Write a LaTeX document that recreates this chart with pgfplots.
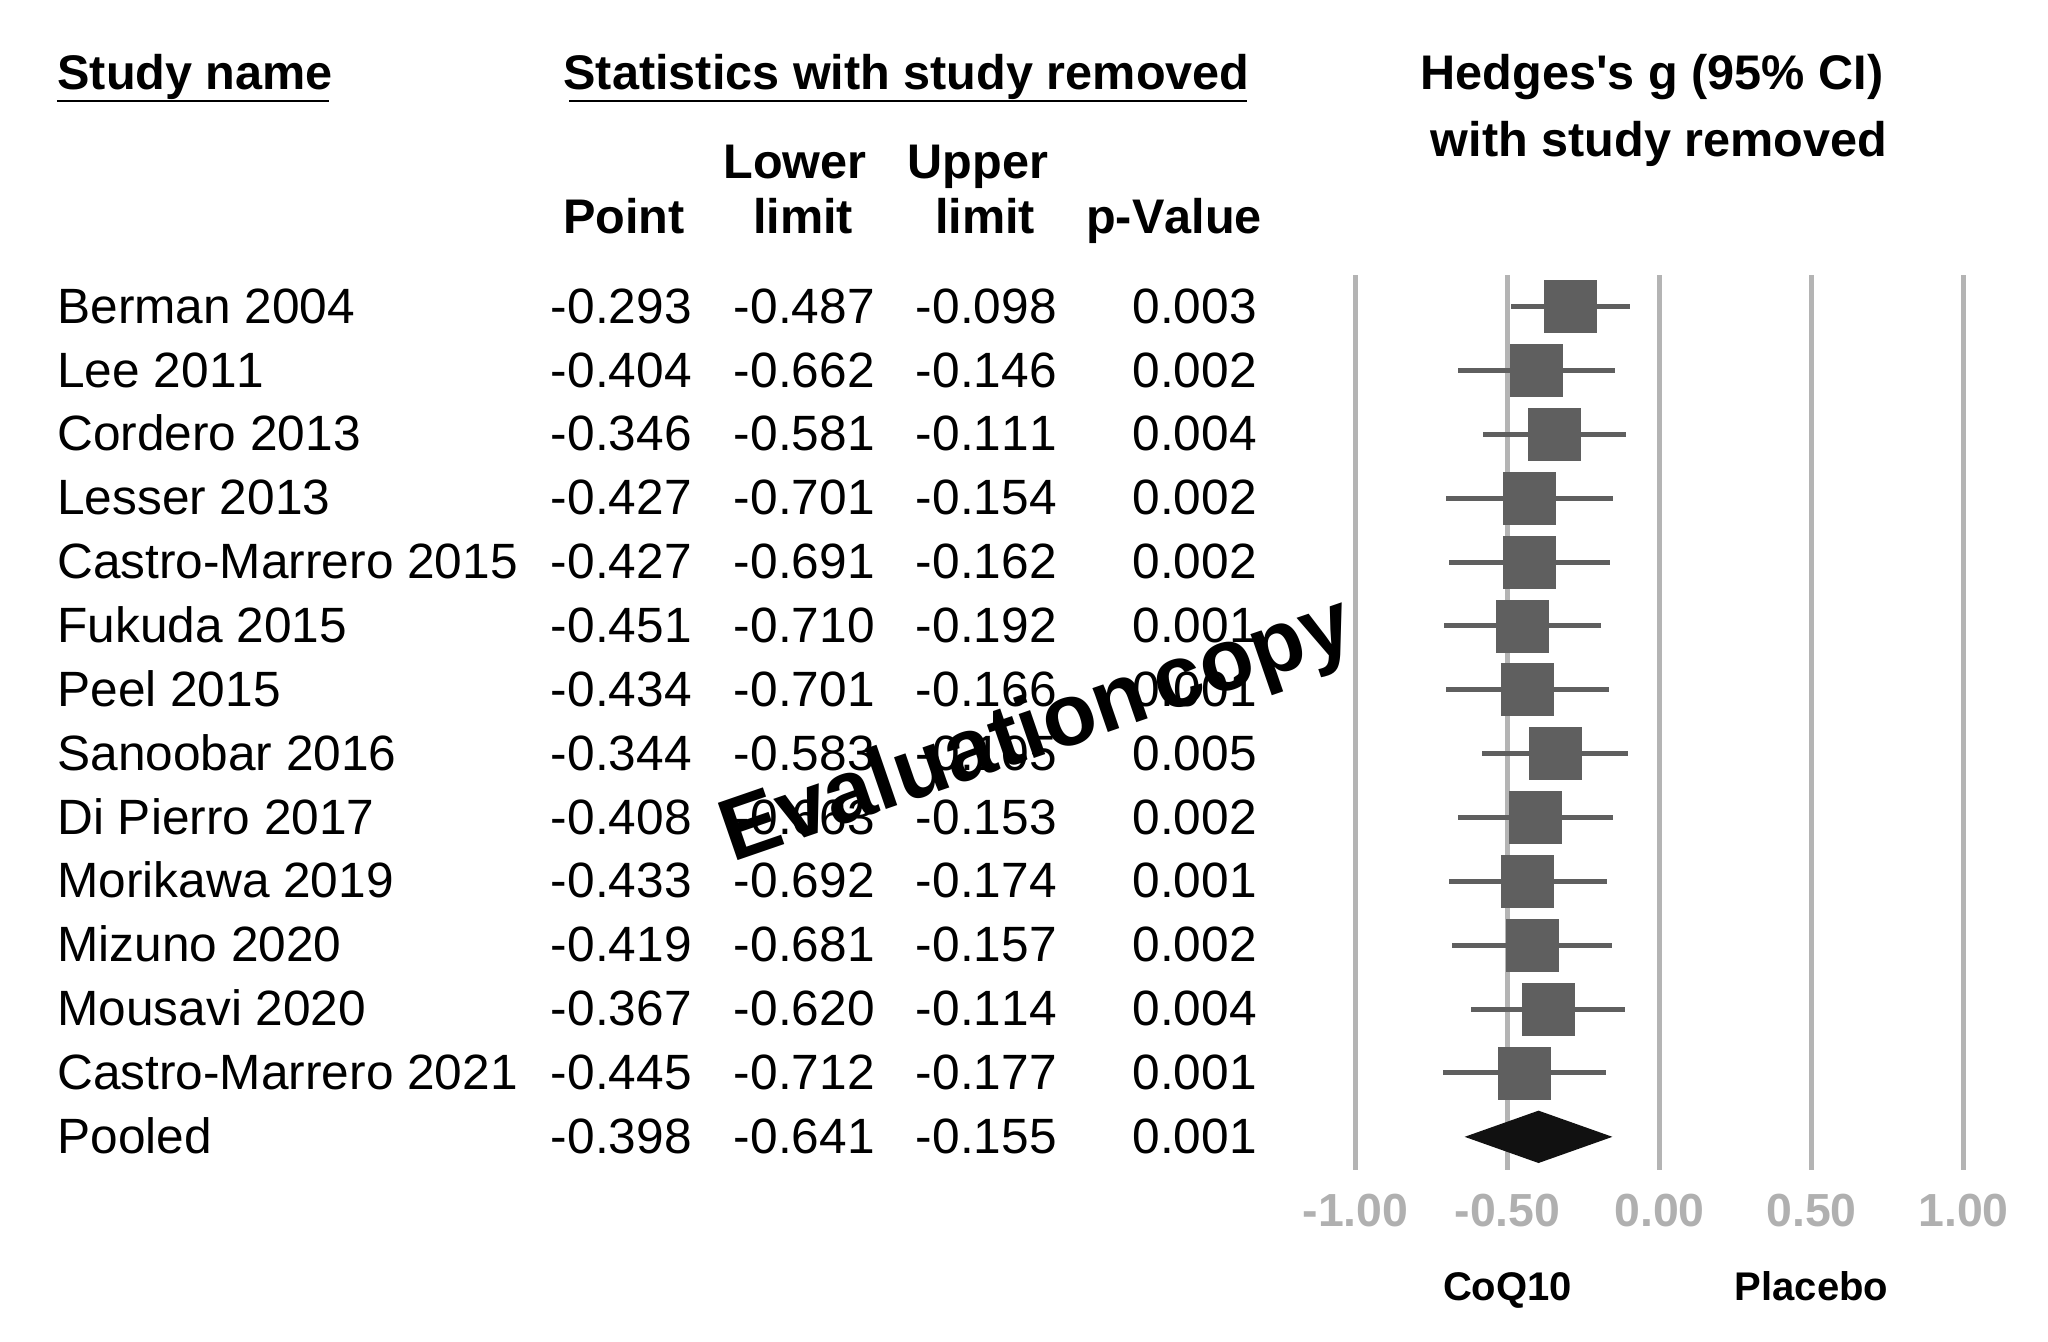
\documentclass[border=0pt]{standalone}
\usepackage{fontspec}
\setmainfont{Liberation Sans}[Kerning=Off]
\newfontfamily\plainsans{Liberation Sans}[Kerning=Off]
\usepackage{pgfplots}
\usepackage{pgfplotstable}
\pgfplotsset{compat=1.18}

\definecolor{boxgray}{HTML}{5F5F5F}
\definecolor{gridgray}{HTML}{B4B4B4}
\definecolor{tickgray}{HTML}{B0B0B0}
\definecolor{diamond}{HTML}{111111}

% one-study-removed estimates (Hedges's g)
\pgfplotstableread{
row pt lo hi
0 -0.293 -0.487 -0.098
1 -0.404 -0.662 -0.146
2 -0.346 -0.581 -0.111
3 -0.427 -0.701 -0.154
4 -0.427 -0.691 -0.162
5 -0.451 -0.710 -0.192
6 -0.434 -0.701 -0.166
7 -0.344 -0.583 -0.105
8 -0.408 -0.663 -0.153
9 -0.433 -0.692 -0.174
10 -0.419 -0.681 -0.157
11 -0.367 -0.620 -0.114
12 -0.445 -0.712 -0.177
}\studies

\newcommand\rowfont{\fontsize{24.8}{29}\selectfont}
\newcommand\headfont{\bfseries\fontsize{24.3}{29}\selectfont}

\begin{document}
\begin{tikzpicture}
\path[use as bounding box] (0,0) rectangle (1024pt,-670.5pt);

\begin{axis}[
  at={(662.55pt,-137.5pt)}, anchor=north west,
  scale only axis,
  width=334.4pt, height=447.5pt,
  xmin=-1.1, xmax=1.1,
  ymin=-0.496, ymax=13.52,
  y dir=reverse,
  axis line style={draw=none},
  tick style={draw=none},
  xtick={-1,-0.5,0,0.5,1},
  xticklabels={-1.00,-0.50,0.00,0.50,1.00},
  xticklabel style={anchor=base, yshift=-28.3pt, text=tickgray,
    font=\bfseries\fontsize{23.2}{26}\selectfont},
  ytick=\empty,
  xmajorgrids,
  grid style={line width=2.6pt, gridgray},
  clip=false,
]
  % confidence intervals and point estimates
  \addplot[only marks, mark=square*, mark size=13pt, boxgray,
    error bars/.cd, x dir=both, x explicit, error mark=none,
    error bar style={line width=2.5pt, boxgray}]
    table[x=pt, y=row,
      x error plus expr=\thisrow{hi}-\thisrow{pt},
      x error minus expr=\thisrow{pt}-\thisrow{lo}] {\studies};

  % pooled estimate
  \addplot[fill=diamond, draw=none]
    coordinates {(-0.641,13) (-0.398,12.59) (-0.155,13) (-0.398,13.41)} -- cycle;
\end{axis}

% headers
\node[anchor=base west, font=\headfont, inner sep=0] at (28.5pt,-44.5pt) {Study name};
\draw[line width=1.2pt] (28.4pt,-50.5pt) -- (164.5pt,-50.5pt);
\node[anchor=base, font=\headfont, inner sep=0] at (453.25pt,-44.5pt) {Statistics with study removed};
\draw[line width=1.2pt] (284.5pt,-50.5pt) -- (623.5pt,-50.5pt);
\node[anchor=base, font=\plainsans\headfont, inner sep=0] at (826pt,-44.5pt) {Hedges's g (95\% CI)};
\node[anchor=base, font=\headfont, inner sep=0] at (829.5pt,-78pt) {with study removed};
\node[anchor=base, font=\headfont, inner sep=0] at (397.5pt,-89pt) {Lower};
\node[anchor=base, font=\headfont, inner sep=0] at (489pt,-89pt) {Upper};
\node[anchor=base, font=\headfont, inner sep=0] at (312pt,-116.5pt) {Point};
\node[anchor=base, font=\headfont, inner sep=0] at (401.5pt,-116.5pt) {limit};
\node[anchor=base, font=\headfont, inner sep=0] at (492.5pt,-116.5pt) {limit};
\node[anchor=base, font=\headfont, inner sep=0] at (587pt,-116.5pt) {p-Value};

% table rows
\foreach \i/\name/\p/\l/\u/\pv in {
  0/Berman 2004/-0.293/-0.487/-0.098/0.003,
  1/Lee 2011/-0.404/-0.662/-0.146/0.002,
  2/Cordero 2013/-0.346/-0.581/-0.111/0.004,
  3/Lesser 2013/-0.427/-0.701/-0.154/0.002,
  4/Castro-Marrero 2015/-0.427/-0.691/-0.162/0.002,
  5/Fukuda 2015/-0.451/-0.710/-0.192/0.001,
  6/Peel 2015/-0.434/-0.701/-0.166/0.001,
  7/Sanoobar 2016/-0.344/-0.583/-0.105/0.005,
  8/Di Pierro 2017/-0.408/-0.663/-0.153/0.002,
  9/Morikawa 2019/-0.433/-0.692/-0.174/0.001,
  10/Mizuno 2020/-0.419/-0.681/-0.157/0.002,
  11/Mousavi 2020/-0.367/-0.620/-0.114/0.004,
  12/Castro-Marrero 2021/-0.445/-0.712/-0.177/0.001,
  13/Pooled/-0.398/-0.641/-0.155/0.001}{
  \node[anchor=base west, font=\rowfont, inner sep=0] at (28.5pt,{-161.6pt-31.925pt*\i}) {\name};
  \node[anchor=base east, font=\rowfont, inner sep=0] at (346pt,{-161.6pt-31.925pt*\i}) {\p};
  \node[anchor=base east, font=\rowfont, inner sep=0] at (437.5pt,{-161.6pt-31.925pt*\i}) {\l};
  \node[anchor=base east, font=\rowfont, inner sep=0] at (528.5pt,{-161.6pt-31.925pt*\i}) {\u};
  \node[anchor=base east, font=\rowfont, inner sep=0] at (628.5pt,{-161.6pt-31.925pt*\i}) {\pv};
}

% favours labels
\node[anchor=base, font=\bfseries\fontsize{20}{24}\selectfont, inner sep=0] at (753.75pt,-650pt) {CoQ10};
\node[anchor=base, font=\bfseries\fontsize{20}{24}\selectfont, inner sep=0] at (905.75pt,-650pt) {Placebo};

% watermark
\node[rotate=19, font=\bfseries\fontsize{44}{44}\selectfont, inner sep=0] at (519pt,-366.5pt) {Evaluation\hspace{0.12em}copy};
\end{tikzpicture}
\end{document}
